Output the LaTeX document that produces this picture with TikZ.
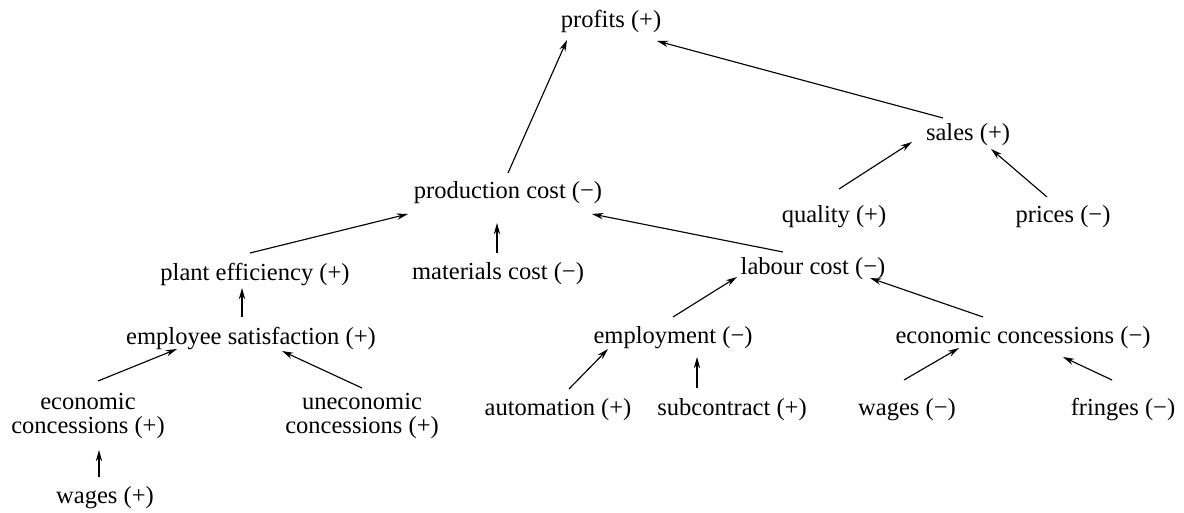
\documentclass[tikz,border=0pt]{standalone}
\usepackage{fontspec}
\setmainfont{Liberation Serif}
\usetikzlibrary{arrows.meta}
\begin{document}
\begin{tikzpicture}[x=0.75pt,y=-0.75pt,
  lbl/.style={anchor=base,inner sep=0pt,font=\fontsize{18.4}{17.5}\selectfont},
  arr/.style={-{Stealth[length=8.5pt,width=4.8pt]},line width=0.85pt}]
\useasboundingbox (0,0) rectangle (1184,513);
% nodes (base anchors, px coordinates, y downward)
\node[lbl] (profits) at (611,28) {profits (+)};
\node[lbl] (sales) at (968,141) {sales (+)};
\node[lbl] (quality) at (834,223) {quality (+)};
\node[lbl] (prices) at (1063,223) {prices (−)};
\node[lbl] (prodcost) at (508,199) {production cost (−)};
\node[lbl] (plant) at (255,280) {plant efficiency (+)};
\node[lbl] (materials) at (498,279) {materials cost (−)};
\node[lbl] (labour) at (813,274) {labour cost (−)};
\node[lbl] (empsat) at (251,344) {employee satisfaction (+)};
\node[lbl] (employment) at (673,343) {employment (−)};
\node[lbl] (ecm) at (1023,343) {economic concessions (−)};
\node[lbl] (automation) at (558,415) {automation (+)};
\node[lbl] (subcontract) at (732,415) {subcontract (+)};
\node[lbl] (wagesm) at (907,415) {wages (−)};
\node[lbl] (fringes) at (1123,415) {fringes (−)};
\node[lbl,align=center] (ecp) at (88,433) {economic\\concessions (+)};
\node[lbl,align=center] (unecp) at (362,433) {uneconomic\\concessions (+)};
\node[lbl] (wagesp) at (105,503) {wages (+)};
% connectors
\draw[arr] ([shift={(0,-26)}]prodcost.base) -- ([shift={(-44,12)}]profits.base);
\draw[arr] ([shift={(-25,-23)}]sales.base) -- ([shift={(46,13)}]profits.base);
\draw[arr] ([shift={(5,-34)}]quality.base) -- ([shift={(-56,1)}]sales.base);
\draw[arr] ([shift={(-16,-26)}]prices.base) -- ([shift={(23,8)}]sales.base);
\draw[arr] ([shift={(-5,-27)}]plant.base) -- ([shift={(-100,15)}]prodcost.base);
\draw[arr] ([shift={(-1,-26)}]materials.base) -- ([shift={(-11,24)}]prodcost.base);
\draw[arr] ([shift={(-30,-22)}]labour.base) -- ([shift={(84,15)}]prodcost.base);
\draw[arr] ([shift={(-9,-27)}]empsat.base) -- ([shift={(-13,8)}]plant.base);
\draw[arr] ([shift={(0,-26)}]employment.base) -- ([shift={(-76,3)}]labour.base);
\draw[arr] ([shift={(-40,-26)}]ecm.base) -- ([shift={(57,4)}]labour.base);
\draw[arr] ([shift={(10,-52)}]ecp.base) -- ([shift={(-74,5)}]empsat.base);
\draw[arr] ([shift={(0,-45)}]unecp.base) -- ([shift={(31,7)}]empsat.base);
\draw[arr] ([shift={(11,-26)}]automation.base) -- ([shift={(-65,6)}]employment.base);
\draw[arr] ([shift={(-35,-27)}]subcontract.base) -- ([shift={(24,14)}]employment.base);
\draw[arr] ([shift={(-3,-35)}]wagesm.base) -- ([shift={(-64,5)}]ecm.base);
\draw[arr] ([shift={(-11,-35)}]fringes.base) -- ([shift={(40,14)}]ecm.base);
\draw[arr] ([shift={(-6,-26)}]wagesp.base) -- ([shift={(11,17)}]ecp.base);
\end{tikzpicture}
\end{document}
